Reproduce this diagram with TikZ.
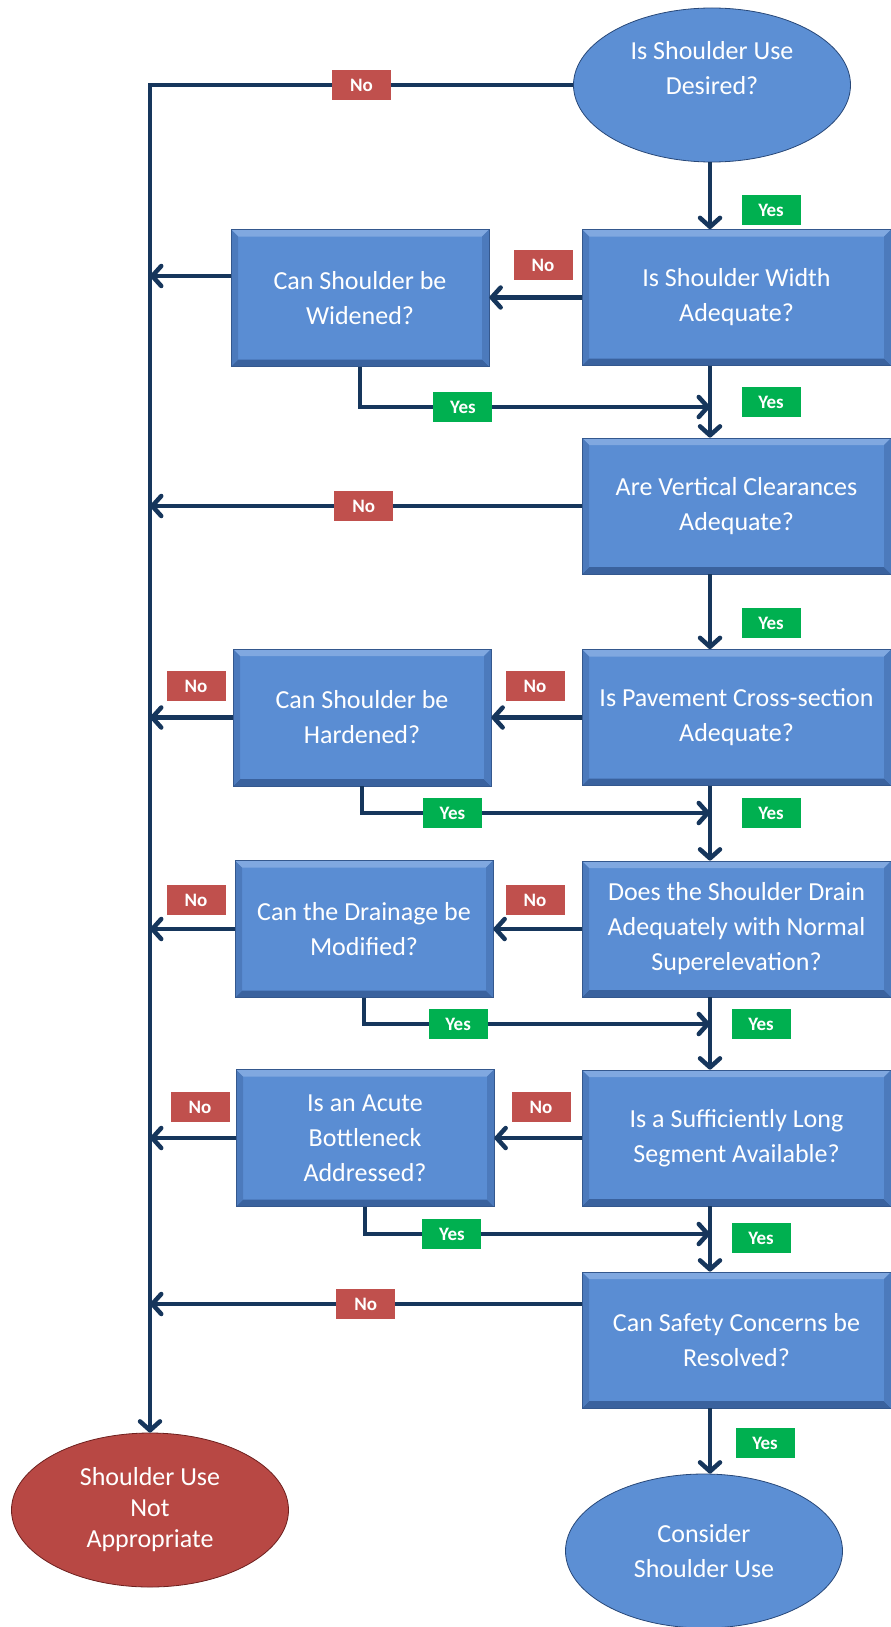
\documentclass[tikz,border=0pt]{standalone}
\usepackage{fontspec}
\setmainfont{Carlito}
\usepackage{tikz}
\usetikzlibrary{shapes.geometric,arrows.meta}

\definecolor{boxblue}{RGB}{90,141,211}
\definecolor{boxtop}{RGB}{128,168,224}
\definecolor{boxside}{RGB}{76,122,188}
\definecolor{boxlow}{RGB}{58,98,158}
\definecolor{boxedge}{RGB}{52,88,142}
\definecolor{flowblue}{RGB}{22,54,92}
\definecolor{nored}{RGB}{192,80,77}
\definecolor{yesgreen}{RGB}{0,176,80}
\definecolor{ellblue}{RGB}{92,143,212}
\definecolor{ellbluedark}{RGB}{40,72,120}
\definecolor{ellred}{RGB}{184,72,68}
\definecolor{ellreddark}{RGB}{110,32,30}

\pgfdeclareradialshading{blueell}{\pgfpoint{0bp}{5bp}}{color(0bp)=(ellblue); color(37bp)=(ellblue); color(46bp)=(ellblue!65!ellbluedark); color(51bp)=(ellbluedark)}
\pgfdeclareradialshading{redell}{\pgfpoint{0bp}{5bp}}{color(0bp)=(ellred); color(37bp)=(ellred); color(46bp)=(ellred!65!ellreddark); color(51bp)=(ellreddark)}

\tikzset{
  bevel/.style={path picture={
      \fill[boxtop] (path picture bounding box.north west) -- (path picture bounding box.north east)
        -- ([shift={(-7pt,-7pt)}]path picture bounding box.north east) -- ([shift={(7pt,-7pt)}]path picture bounding box.north west) -- cycle;
      \fill[boxlow] (path picture bounding box.south west) -- (path picture bounding box.south east)
        -- ([shift={(-7pt,7pt)}]path picture bounding box.south east) -- ([shift={(7pt,7pt)}]path picture bounding box.south west) -- cycle;
      \fill[boxside] (path picture bounding box.north west) -- ([shift={(7pt,-7pt)}]path picture bounding box.north west)
        -- ([shift={(7pt,7pt)}]path picture bounding box.south west) -- (path picture bounding box.south west) -- cycle;
      \fill[boxside] (path picture bounding box.north east) -- ([shift={(-7pt,-7pt)}]path picture bounding box.north east)
        -- ([shift={(-7pt,7pt)}]path picture bounding box.south east) -- (path picture bounding box.south east) -- cycle;
  }},
  qbox/.style={rectangle, fill=boxblue, draw=boxedge, line width=0.8pt, bevel, text=white,
    align=center, inner sep=0pt, font=\fontsize{26}{35}\selectfont},
  rbox/.style={qbox, minimum width=309pt, minimum height=136pt},
  lbox/.style={qbox, minimum width=258pt, minimum height=137pt},
  endell/.style={ellipse, shade, line width=0.8pt, minimum width=277pt, minimum height=154pt,
    inner sep=0pt, text=white, align=center, font=\fontsize{26}{35}\selectfont},
  tag/.style={minimum width=59pt, minimum height=30pt, inner sep=0pt, text=white,
    font=\bfseries\fontsize{19}{19}\selectfont},
  nolab/.style={tag, fill=nored},
  yeslab/.style={tag, fill=yesgreen},
  flow/.style={draw=flowblue, line width=4.5pt, -{Straight Barb[length=9pt,width=20pt,round]}}
}

\begin{document}
\begin{tikzpicture}[x=1pt,y=-1pt]
\useasboundingbox (0,0) rectangle (891,1627);

% questions down the right
\node[endell, shading=blueell, draw=ellbluedark] (desire) at (712,85) {Is Shoulder Use\\Desired?\\\mbox{}};
\node[rbox] (wid) at (736.5,297.5) {Is Shoulder Width\\Adequate?};
\node[rbox] (vert) at (736.5,506) {Are Vertical Clearances\\Adequate?};
\node[rbox] (pave) at (736.5,717.5) {Is Pavement Cross-section\\Adequate?};
\node[rbox] (drain) at (736.5,929) {Does the Shoulder Drain\\Adequately with Normal\\Superelevation?};
\node[rbox] (seg) at (736.5,1138) {Is a Sufficiently Long\\Segment Available?};
\node[rbox] (safe) at (736.5,1340) {Can Safety Concerns be\\Resolved?};

% remedies on the left
\node[lbox] (widen) at (360,298) {Can Shoulder be\\Widened?};
\node[lbox] (harden) at (362,717.5) {Can Shoulder be\\Hardened?};
\node[lbox] (dmod) at (364,929) {Can the Drainage be\\Modified?};
\node[lbox] (bneck) at (365,1138) {Is an Acute\\Bottleneck\\Addressed?};

% outcomes
\node[endell, shading=redell, draw=ellreddark, font=\fontsize{26}{31}\selectfont] (notok) at (150,1510) {Shoulder Use\\Not\\Appropriate};
\node[endell, shading=blueell, draw=ellbluedark] (consider) at (704,1551) {Consider\\Shoulder Use};

\coordinate (spine) at (710,0);
\coordinate (trunk) at (150,85);
\coordinate (j1) at (710,407);
\coordinate (j2) at (710,813);
\coordinate (j3) at (710,1024);
\coordinate (j4) at (710,1234);
\coordinate (wno) at ([yshift=22pt]widen.west);
\coordinate (sno) at ([yshift=36pt]safe.west);

% main line
\draw[flow] (desire.south -| spine) -- (wid.north -| spine);
\draw[flow] (wid.south -| spine) -- (vert.north -| spine);
\draw[flow] (vert.south -| spine) -- (pave.north -| spine);
\draw[flow] (pave.south -| spine) -- (drain.north -| spine);
\draw[flow] (drain.south -| spine) -- (seg.north -| spine);
\draw[flow] (seg.south -| spine) -- (safe.north -| spine);
\draw[flow] (safe.south -| spine) -- (consider.north -| spine);

% the No trunk
\draw[flow] (desire.west) -- (trunk) node[nolab,pos=0.5] (n1) {No} -- (notok.north);
\draw[flow] (wno) -- (wno -| trunk);
\draw[flow] (vert.west) -- (vert.west -| trunk) node[nolab,pos=0.505] (n2) {No};
\draw[flow] (harden.west) -- (harden.west -| trunk);
\draw[flow] (dmod.west) -- (dmod.west -| trunk);
\draw[flow] (bneck.west) -- (bneck.west -| trunk);
\draw[flow] (sno) -- (sno -| trunk) node[nolab,pos=0.5] (n3) {No};

% across to the remedies
\draw[flow] (wid.west) -- (widen.east |- wid.west);
\draw[flow] (pave.west) -- (harden.east |- pave.west);
\draw[flow] (drain.west) -- (dmod.east |- drain.west);
\draw[flow] (seg.west) -- (bneck.east |- seg.west);

% back to the main line
\draw[flow] (widen.south) |- (j1) node[yeslab,pos=0.647] (y8) {Yes};
\draw[flow] (harden.south) |- (j2) node[yeslab,pos=0.63] (y9) {Yes};
\draw[flow] (dmod.south) |- (j3) node[yeslab,pos=0.636] (y10) {Yes};
\draw[flow] (bneck.south) |- (j4) node[yeslab,pos=0.626] (y11) {Yes};

% labels
\node[yeslab] (y1) at (771,210) {Yes};
\node[yeslab] (y2) at (771,402) {Yes};
\node[yeslab] (y3) at (771,623) {Yes};
\node[yeslab] (y4) at (771,813) {Yes};
\node[yeslab] (y5) at (761,1024) {Yes};
\node[yeslab] (y6) at (761,1238) {Yes};
\node[yeslab] (y7) at (765,1443) {Yes};
\node[nolab] (n4) at (543,265) {No};
\node[nolab] (n5) at (535,686) {No};
\node[nolab] (n6) at (535,900) {No};
\node[nolab] (n7) at (541,1107) {No};
\node[nolab] (n8) at (196,686) {No};
\node[nolab] (n9) at (196,900) {No};
\node[nolab] (n10) at (200,1107) {No};
\end{tikzpicture}
\end{document}
